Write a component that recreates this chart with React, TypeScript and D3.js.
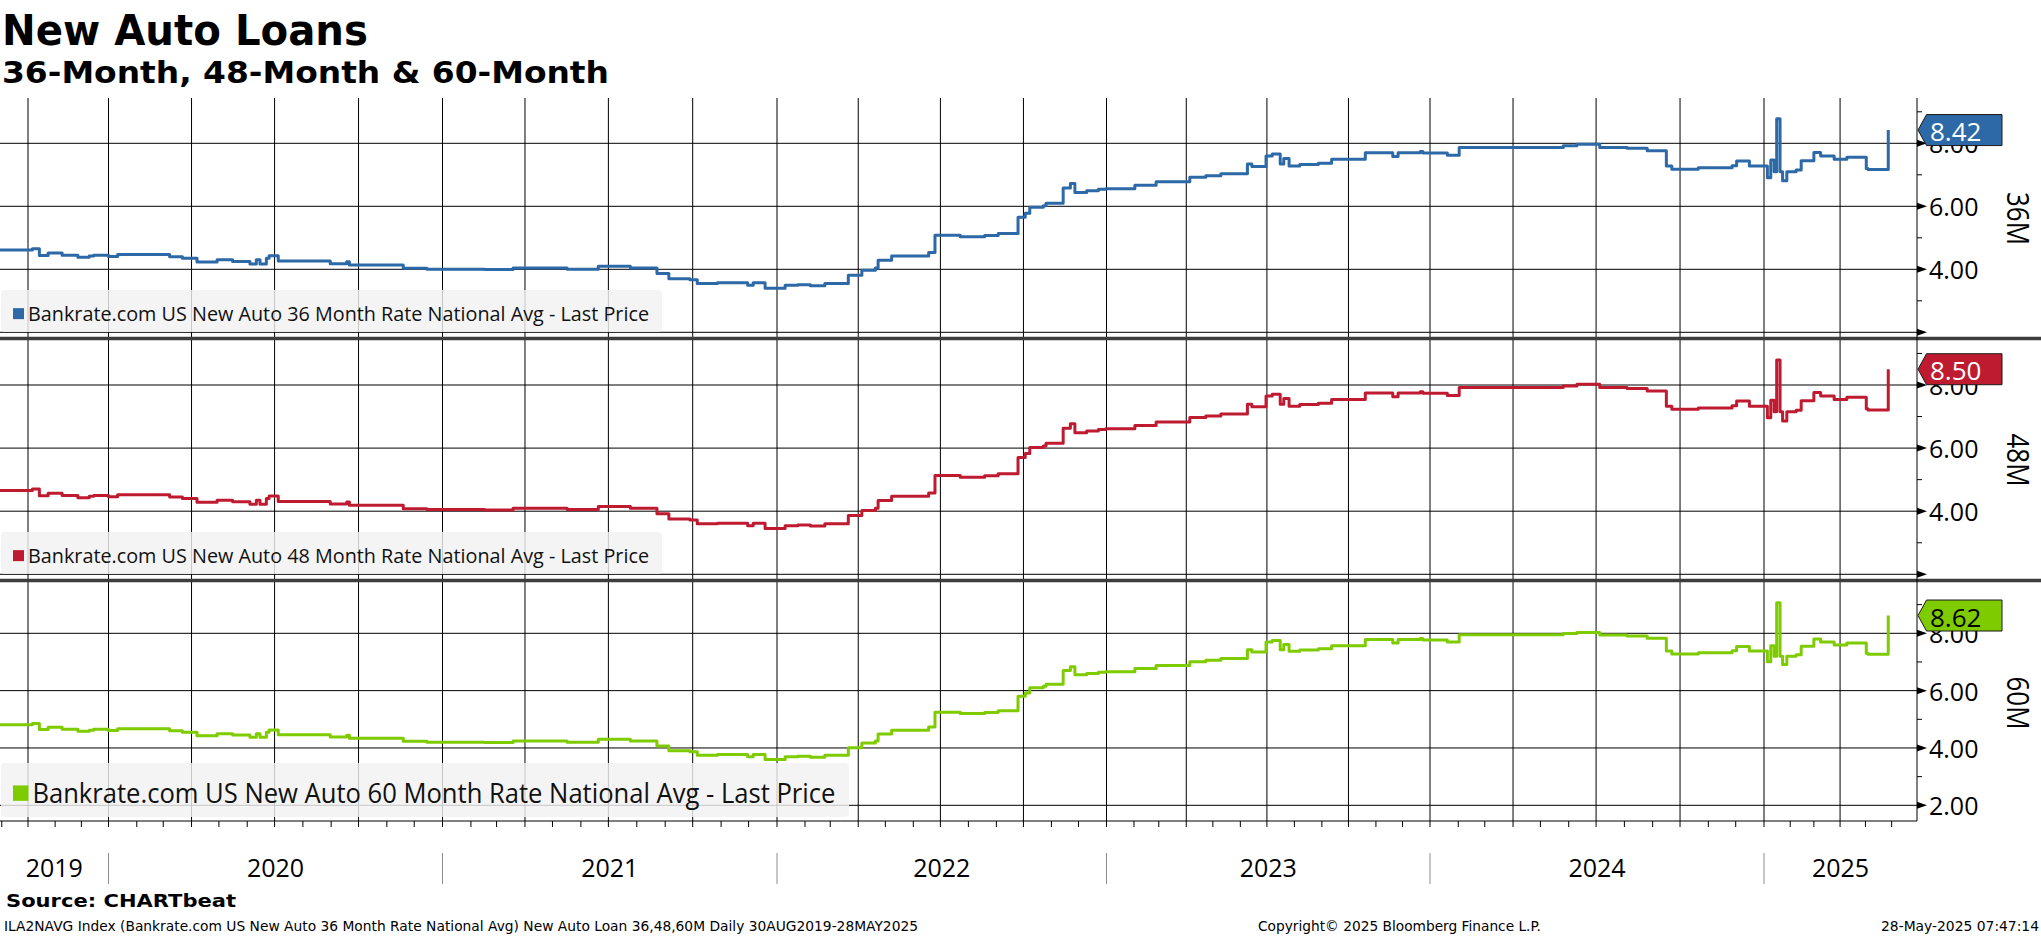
import React, { useEffect, useRef } from "react";
import * as d3 from "d3";

const W = 2041;
const H = 936;

const dates = [
  "2019-08-30", "2019-10-06", "2019-10-14", "2019-10-24", "2019-11-09", "2019-11-27", "2019-12-10", "2019-12-15",
  "2020-01-01", "2020-01-11", "2020-03-08", "2020-03-22", "2020-04-07", "2020-04-29", "2020-05-16", "2020-06-04",
  "2020-06-11", "2020-06-15", "2020-06-22", "2020-06-25", "2020-07-05", "2020-08-31", "2020-09-18", "2020-09-21",
  "2020-11-19", "2020-12-15",
  "2021-02-16", "2021-03-19", "2021-05-17", "2021-06-20", "2021-07-25", "2021-08-23", "2021-09-05", "2021-09-28",
  "2021-10-06", "2021-10-28", "2021-11-30", "2021-12-06", "2021-12-19",
  "2022-01-10", "2022-01-24", "2022-02-07", "2022-02-23", "2022-03-21", "2022-04-05", "2022-04-20", "2022-04-23",
  "2022-05-08", "2022-06-18", "2022-06-25", "2022-07-23", "2022-08-19", "2022-09-03", "2022-09-25", "2022-10-03",
  "2022-10-08", "2022-10-23", "2022-10-26", "2022-11-14", "2022-11-22", "2022-11-27", "2022-12-10", "2022-12-23",
  "2022-12-31",
  "2023-02-02", "2023-02-26", "2023-04-05", "2023-04-23", "2023-05-10", "2023-06-09", "2023-06-14", "2023-06-30",
  "2023-07-07", "2023-07-16", "2023-07-20", "2023-07-26", "2023-08-07", "2023-08-28", "2023-09-12", "2023-10-20",
  "2023-11-20", "2023-11-26", "2023-12-21", "2023-12-24",
  "2024-01-20", "2024-02-02", "2024-05-26", "2024-06-10", "2024-07-05", "2024-08-04", "2024-08-26", "2024-09-16",
  "2024-09-22", "2024-10-21", "2024-11-27", "2024-12-02", "2024-12-16",
  "2025-01-05", "2025-01-09", "2025-01-13", "2025-01-16", "2025-01-20", "2025-01-23", "2025-01-28", "2025-02-08",
  "2025-02-14", "2025-03-01", "2025-03-09", "2025-03-25", "2025-04-09", "2025-05-02", "2025-05-04", "2025-05-28",
];

const rate36 = [
  4.61, 4.65, 4.44, 4.52, 4.45, 4.38, 4.42, 4.45,
  4.41, 4.47, 4.40, 4.35, 4.23, 4.30, 4.25, 4.17, 4.30, 4.17, 4.35, 4.43, 4.26, 4.18, 4.24, 4.14, 4.03, 4.00,
  3.99, 4.04, 4.00, 4.10, 4.04, 3.87, 3.70, 3.67, 3.55, 3.57, 3.49, 3.57, 3.40,
  3.49, 3.51, 3.48, 3.55, 3.81, 3.97, 4.04, 4.29, 4.42, 4.53, 5.08, 5.03, 5.07, 5.14, 5.65, 5.78, 5.97, 6.02, 6.10,
  6.58, 6.72, 6.44, 6.49, 6.54, 6.56,
  6.67, 6.78, 6.92, 6.97, 7.03, 7.34, 7.26, 7.60, 7.66, 7.34, 7.52, 7.28, 7.33, 7.37, 7.49, 7.70, 7.58, 7.70, 7.74, 7.69,
  7.62, 7.87, 7.92, 7.97, 7.87, 7.84, 7.76, 7.28, 7.18, 7.22, 7.29, 7.44, 7.28,
  6.91, 7.47, 7.10, 8.78, 7.10, 6.81, 7.10, 7.15, 7.45, 7.71, 7.60, 7.49, 7.56, 7.20, 7.17, 8.42,
];

const rate48 = [
  4.66, 4.70, 4.49, 4.57, 4.50, 4.43, 4.47, 4.50,
  4.46, 4.52, 4.45, 4.40, 4.28, 4.35, 4.30, 4.22, 4.35, 4.22, 4.40, 4.48, 4.31, 4.23, 4.29, 4.19, 4.08, 4.05,
  4.04, 4.09, 4.05, 4.15, 4.09, 3.92, 3.75, 3.72, 3.60, 3.62, 3.54, 3.62, 3.45,
  3.54, 3.56, 3.53, 3.60, 3.86, 4.02, 4.09, 4.34, 4.47, 4.58, 5.13, 5.08, 5.12, 5.19, 5.70, 5.83, 6.02, 6.07, 6.15,
  6.63, 6.77, 6.49, 6.54, 6.59, 6.61,
  6.72, 6.83, 6.97, 7.02, 7.08, 7.39, 7.31, 7.65, 7.71, 7.39, 7.57, 7.33, 7.38, 7.42, 7.54, 7.75, 7.63, 7.75, 7.79, 7.74,
  7.67, 7.92, 7.97, 8.02, 7.92, 7.89, 7.81, 7.33, 7.23, 7.27, 7.34, 7.49, 7.33,
  6.96, 7.52, 7.15, 8.79, 7.15, 6.86, 7.15, 7.20, 7.50, 7.76, 7.65, 7.54, 7.61, 7.25, 7.21, 8.50,
];

const rate60 = [
  4.81, 4.85, 4.64, 4.72, 4.65, 4.58, 4.62, 4.65,
  4.61, 4.67, 4.60, 4.55, 4.43, 4.50, 4.45, 4.37, 4.50, 4.37, 4.55, 4.63, 4.46, 4.38, 4.44, 4.34, 4.23, 4.20,
  4.19, 4.24, 4.20, 4.30, 4.24, 4.07, 3.90, 3.87, 3.75, 3.77, 3.69, 3.77, 3.60,
  3.69, 3.71, 3.68, 3.75, 4.01, 4.17, 4.24, 4.49, 4.62, 4.73, 5.25, 5.20, 5.24, 5.30, 5.80, 5.92, 6.10, 6.15, 6.22,
  6.70, 6.83, 6.55, 6.60, 6.64, 6.66,
  6.77, 6.88, 7.01, 7.06, 7.12, 7.43, 7.35, 7.70, 7.75, 7.43, 7.61, 7.37, 7.42, 7.46, 7.57, 7.78, 7.66, 7.78, 7.82, 7.77,
  7.70, 7.95, 7.99, 8.03, 7.94, 7.91, 7.83, 7.38, 7.28, 7.32, 7.39, 7.54, 7.38,
  7.01, 7.57, 7.20, 9.07, 7.20, 6.91, 7.20, 7.25, 7.55, 7.80, 7.70, 7.59, 7.66, 7.30, 7.27, 8.62,
];

const panelNames = ["36M", "48M", "60M"];
const legendNames = [
  "Bankrate.com US New Auto 36 Month Rate National Avg - Last Price",
  "Bankrate.com US New Auto 48 Month Rate National Avg - Last Price",
  "Bankrate.com US New Auto 60 Month Rate National Avg - Last Price",
];
const majorTicks = [2, 4, 6, 8];
const minorTicks = [1, 3, 5, 7, 9];
const years = [2019, 2020, 2021, 2022, 2023, 2024, 2025];

// the time axis is not perfectly uniform on the original, so it is pinned at year starts
const axisDates = ["2019-08-30", "2020-01-01", "2021-01-01", "2022-01-01", "2023-01-01", "2024-01-01", "2025-01-01", "2025-07-01"];
const axisPx = [0, 108.5, 442.5, 777, 1106.5, 1430, 1764, 1917];

const panels = [
  { values: rate36, color: "#2c69a6", text: "#ffffff", top: 98, bottom: 338, y8: 143.3, y2: 332.3, lgTop: 290, lgH: 42, lgW: 661, lgFont: 20, lgText: 621, nameY: 218.5 },
  { values: rate48, color: "#be1b31", text: "#ffffff", top: 341, bottom: 580, y8: 385, y2: 574.3, lgTop: 532, lgH: 42, lgW: 661, lgFont: 20, lgText: 621, nameY: 460 },
  { values: rate60, color: "#7ecc00", text: "#000000", top: 583, bottom: 821, y8: 633.3, y2: 805.3, lgTop: 763, lgH: 54, lgW: 848, lgFont: 28, lgText: 803, nameY: 703 },
];

const SANS = "'Open Sans', 'Noto Sans', sans-serif";
const BOLD = "'DejaVu Sans', Verdana, sans-serif";

const App: React.FC = () => {
  const svgRef = useRef<SVGSVGElement>(null);

  useEffect(() => {
    document.body.style.margin = "0";
    if (!svgRef.current) return;
    const svg = d3.select(svgRef.current);
    svg.selectAll("*").remove();

    const parse = d3.timeParse("%Y-%m-%d");
    const xDates = dates.map((d) => parse(d)!);
    const x = d3
      .scaleTime()
      .domain(axisDates.map((d) => parse(d)!))
      .range(axisPx);
    const right = axisPx[axisPx.length - 1];
    const gridTop = panels[0].top;
    const gridBottom = panels[2].bottom;

    svg.append("rect").attr("width", W).attr("height", H).attr("fill", "#fff");

    // titles
    svg.append("text").attr("x", 2).attr("y", 45).attr("font-family", BOLD).attr("font-weight", "bold")
      .attr("font-size", 42).attr("textLength", 366).attr("lengthAdjust", "spacingAndGlyphs").text("New Auto Loans");
    svg.append("text").attr("x", 2).attr("y", 83).attr("font-family", BOLD).attr("font-weight", "bold")
      .attr("font-size", 31).attr("textLength", 607).attr("lengthAdjust", "spacingAndGlyphs").text("36-Month, 48-Month & 60-Month");

    // quarterly vertical grid through all panels
    const quarters = d3.timeMonth.every(3)!.range(parse("2019-10-01")!, parse("2025-07-01")!);
    svg.append("g").selectAll("line").data(quarters).enter().append("line")
      .attr("x1", (d) => x(d)).attr("x2", (d) => x(d))
      .attr("y1", gridTop).attr("y2", gridBottom)
      .attr("stroke", "#000").attr("stroke-width", 1);

    panels.forEach((p, i) => {
      const y = d3.scaleLinear().domain([2, 8]).range([p.y2, p.y8]);
      const g = svg.append("g");
      const inside = (v: number) => y(v) >= p.top && y(v) <= p.bottom;

      // horizontal grid
      g.selectAll(".hgrid").data(majorTicks.filter(inside)).enter().append("line")
        .attr("x1", 0).attr("x2", right).attr("y1", (d) => y(d)).attr("y2", (d) => y(d))
        .attr("stroke", "#000").attr("stroke-width", 1);

      // legend box
      g.append("rect").attr("x", 1).attr("y", p.lgTop).attr("width", p.lgW).attr("height", p.lgH)
        .attr("rx", 4).attr("fill", "rgba(242,242,242,0.82)");
      const sq = p.lgFont * 0.55;
      g.append("rect").attr("x", 13).attr("y", p.lgTop + p.lgH * 0.62 - sq / 2 - p.lgFont * 0.12)
        .attr("width", sq).attr("height", sq).attr("fill", p.color);
      g.append("text").attr("x", 14 + sq + 3).attr("y", p.lgTop + p.lgH * 0.74)
        .attr("font-family", SANS).attr("font-size", p.lgFont).attr("fill", "#111")
        .attr("textLength", p.lgText).attr("lengthAdjust", "spacingAndGlyphs").text(legendNames[i]);

      // series line
      const clipId = `panel-clip-${i}`;
      svg.append("clipPath").attr("id", clipId).append("rect")
        .attr("x", 0).attr("y", p.top).attr("width", right).attr("height", p.bottom - p.top);
      const line = d3.line<number>()
        .x((_, k) => x(xDates[k]))
        .y((v) => y(v))
        .curve(d3.curveStepAfter);
      g.append("path").attr("d", line(p.values)).attr("fill", "none").attr("stroke", p.color)
        .attr("stroke-width", 3).attr("stroke-linejoin", "round").attr("clip-path", `url(#${clipId})`);

      // right axis ticks
      g.selectAll(".arrow").data(majorTicks.filter(inside)).enter().append("path")
        .attr("d", (d) => `M${right},${y(d) - 3.5}L${right + 10},${y(d)}L${right},${y(d) + 3.5}Z`)
        .attr("fill", "#000");
      g.selectAll(".minor").data(minorTicks.filter(inside)).enter().append("line")
        .attr("x1", right).attr("x2", right + 5).attr("y1", (d) => y(d)).attr("y2", (d) => y(d))
        .attr("stroke", "#000");
      g.selectAll(".tlabel").data(majorTicks.filter((v) => y(v) - 12 > p.top && y(v) + 12 < p.bottom))
        .enter().append("text")
        .attr("x", right + 12).attr("y", (d) => y(d)).attr("dominant-baseline", "central")
        .attr("font-family", SANS).attr("font-size", 25).attr("fill", "#000")
        .text((d) => d.toFixed(2));

      // panel name
      g.append("text").attr("transform", `translate(2019,${p.nameY}) rotate(90)`)
        .attr("text-anchor", "middle").attr("dominant-baseline", "central")
        .attr("font-family", SANS).attr("font-size", 31).attr("textLength", 53)
        .attr("lengthAdjust", "spacingAndGlyphs").attr("fill", "#000").text(panelNames[i]);

      // last value tag
      const last = p.values[p.values.length - 1];
      const ly = y(last);
      g.append("path")
        .attr("d", `M${right + 1},${ly}L${right + 9.5},${ly - 15.5}H2002V${ly + 15.5}H${right + 9.5}Z`)
        .attr("fill", p.color).attr("stroke", "#1a1a1a").attr("stroke-width", 1);
      g.append("text").attr("x", right + 13).attr("y", ly + 1).attr("dominant-baseline", "central")
        .attr("font-family", SANS).attr("font-size", 26).attr("fill", p.text).text(last.toFixed(2));
    });

    // panel separators
    svg.selectAll(".sep").data([338.5, 580.5]).enter().append("line")
      .attr("x1", 0).attr("x2", W).attr("y1", (d) => d).attr("y2", (d) => d)
      .attr("stroke", "#3d3d3d").attr("stroke-width", 3.5);

    // right and bottom axis lines
    svg.append("line").attr("x1", right).attr("x2", right).attr("y1", gridTop).attr("y2", gridBottom).attr("stroke", "#000");
    svg.append("line").attr("x1", 0).attr("x2", right).attr("y1", gridBottom).attr("y2", gridBottom).attr("stroke", "#000");

    // monthly ticks
    const months = d3.timeMonth.range(parse("2019-09-01")!, parse("2025-07-01")!);
    svg.append("g").selectAll("line").data(months).enter().append("line")
      .attr("x1", (d) => x(d)).attr("x2", (d) => x(d))
      .attr("y1", gridBottom).attr("y2", gridBottom + 6).attr("stroke", "#000");

    // year separators and labels
    const yearStart = (yr: number) => Math.max(0, x(new Date(yr, 0, 1)));
    const yearEnd = (yr: number) => Math.min(right, x(new Date(yr + 1, 0, 1)));
    svg.append("g").selectAll("line").data(years.slice(1)).enter().append("line")
      .attr("x1", (d) => yearStart(d)).attr("x2", (d) => yearStart(d))
      .attr("y1", 853).attr("y2", 884).attr("stroke", "#8c8c8c");
    svg.append("g").selectAll("text").data(years).enter().append("text")
      .attr("x", (d) => (yearStart(d) + yearEnd(d)) / 2).attr("y", 877)
      .attr("text-anchor", "middle").attr("font-family", SANS).attr("font-size", 25).attr("fill", "#000")
      .text((d) => String(d));

    // source and footer
    svg.append("text").attr("x", 6).attr("y", 907).attr("font-family", BOLD).attr("font-weight", "bold")
      .attr("font-size", 18).attr("textLength", 230).attr("lengthAdjust", "spacingAndGlyphs").text("Source: CHARTbeat");
    svg.append("text").attr("x", 4).attr("y", 931).attr("font-family", BOLD).attr("font-size", 14)
      .attr("textLength", 914).attr("lengthAdjust", "spacingAndGlyphs")
      .text("ILA2NAVG Index (Bankrate.com US New Auto 36 Month Rate National Avg) New Auto Loan 36,48,60M  Daily 30AUG2019-28MAY2025");
    svg.append("text").attr("x", 1258).attr("y", 931).attr("font-family", BOLD).attr("font-size", 14)
      .attr("textLength", 283).attr("lengthAdjust", "spacingAndGlyphs").text("Copyright© 2025 Bloomberg Finance L.P.");
    svg.append("text").attr("x", 1881).attr("y", 931).attr("font-family", BOLD).attr("font-size", 14)
      .attr("textLength", 158).attr("lengthAdjust", "spacingAndGlyphs").text("28-May-2025 07:47:14");
  }, []);

  return (
    <svg
      ref={svgRef}
      width={W}
      height={H}
      style={{ position: "absolute", left: 0, top: 0, display: "block" }}
    ></svg>
  );
};

export default App;
